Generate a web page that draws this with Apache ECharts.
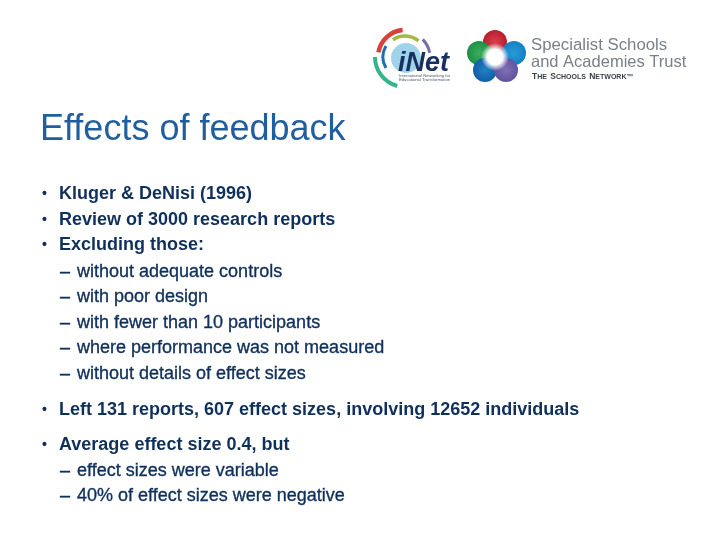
<!DOCTYPE html>
<html>
<head>
<meta charset="utf-8">
<style>html,body{margin:0;padding:0;background:#fff}#main{width:720px;height:540px}</style>
<script src="https://cdn.jsdelivr.net/npm/echarts@6/dist/echarts.min.js"></script>
</head>
<body>
<div id="main"></div>
<script>
const titleText = 'Effects of feedback'
const topBullets = ['Kluger & DeNisi (1996)', 'Review of 3000 research reports', 'Excluding those:']
const topBulletY = [194, 220, 245]
const subBullets = ['without adequate controls', 'with poor design', 'with fewer than 10 participants', 'where performance was not measured', 'without details of effect sizes']
const subBulletY = [272, 297, 323, 348, 374]
const leftBullets = ['Left 131 reports, 607 effect sizes, involving 12652 individuals']
const leftBulletY = [410]
const avgBullets = ['Average effect size 0.4, but']
const avgBulletY = [445]
const avgSubs = ['effect sizes were variable', '40% of effect sizes were negative']
const avgSubY = [471, 496]
const trustLines = ['Specialist Schools', 'and Academies Trust']
const trustY = [45, 62]

const bodyColor = '#10305c'
const bodyFont = 'Liberation Sans, Arial, sans-serif'

function txt(text, x, y, size, color, weight, extra){
  return {type: 'text', x, y, style: Object.assign({
    text, fill: color, fontFamily: bodyFont, fontSize: size, fontWeight: weight || 'normal',
    verticalAlign: 'middle', textAlign: 'left'
  }, extra || {})}
}
function bullet(text, y){
  return [txt('•', 42, y, 14, bodyColor, 'bold'), txt(text, 59, y, 18, bodyColor, 'bold')]
}
// sub lines are regular weight with a hair of stroke, the reference looks semi-bold
function sub(text, y){
  const heavy = {stroke: bodyColor, lineWidth: 0.35}
  return [txt('–', 60, y, 18, bodyColor, 'normal', heavy), txt(text, 77, y, 18, bodyColor, 'normal', heavy)]
}
function arc(cx, cy, r, a0, a1, color, w){
  return {type: 'arc', shape: {cx, cy, r, startAngle: a0 * Math.PI / 180, endAngle: a1 * Math.PI / 180},
    style: {stroke: color, lineWidth: w, fill: null}}
}
function petal(cx, cy, r, inner, outer){
  return {type: 'circle', shape: {cx, cy, r}, style: {fill: {
    type: 'radial', x: 0.5, y: 0.5, r: 0.6,
    colorStops: [{offset: 0, color: inner}, {offset: 1, color: outer}]
  }}}
}

const graphic = []
graphic.push(txt(titleText, 40, 130, 36, '#1f5f9f'))
topBullets.forEach((t, i) => graphic.push(...bullet(t, topBulletY[i])))
subBullets.forEach((t, i) => graphic.push(...sub(t, subBulletY[i])))
leftBullets.forEach((t, i) => graphic.push(...bullet(t, leftBulletY[i])))
avgBullets.forEach((t, i) => graphic.push(...bullet(t, avgBulletY[i])))
avgSubs.forEach((t, i) => graphic.push(...sub(t, avgSubY[i])))

// iNet logo
graphic.push(
  {type: 'circle', shape: {cx: 406, cy: 58, r: 15}, style: {fill: '#9fd3ea'}},
  arc(405, 57, 30, 105, 180, '#38b48c', 4),
  arc(405, 57, 27, 190, 265, '#d8403a', 4.5),
  arc(405, 57, 21, 235, 310, '#a4b84a', 3.5),
  arc(405, 57, 25, 315, 350, '#7a6aa8', 3),
  arc(405, 57, 22, 150, 210, '#1f6fb4', 3),
  txt('iNet', 398, 64, 27, '#17305f', 'bold', {fontStyle: 'italic'}),
  txt('International Networking for', 399, 76, 4.2, '#4a5a70'),
  txt('Educational Transformation', 399, 80, 4.2, '#4a5a70')
)

// petal logo
graphic.push(
  petal(495, 42, 12, '#d8404c', '#b01828'),
  petal(479, 53, 12, '#3cae5c', '#158a40'),
  petal(514, 53, 12, '#2a9ad8', '#0c7cc0'),
  petal(485, 70, 12, '#2080c4', '#10589f'),
  petal(506, 70, 12, '#8070b8', '#5a4c98'),
  {type: 'circle', shape: {cx: 495, cy: 57, r: 14}, style: {fill: {
    type: 'radial', x: 0.5, y: 0.5, r: 0.5,
    colorStops: [{offset: 0, color: '#ffffff'}, {offset: 0.55, color: '#ffffff'}, {offset: 1, color: 'rgba(255,255,255,0)'}]
  }}}
)

// trust wordmark
graphic.push(txt(trustLines[0], 531, trustY[0], 16.8, '#7a8088'))
graphic.push(txt(trustLines[1], 531, trustY[1], 16.5, '#7a8088'))
graphic.push({type: 'text', x: 532, y: 77, style: {
  text: '{b|T}{s|HE} {b|S}{s|CHOOLS} {b|N}{s|ETWORK}{s|™}',
  fontFamily: bodyFont, verticalAlign: 'middle', textAlign: 'left',
  rich: {
    b: {fontSize: 8.5, fontWeight: 'bold', fill: '#3a3f48', fontFamily: bodyFont},
    s: {fontSize: 7, fontWeight: 'bold', fill: '#3a3f48', fontFamily: bodyFont}
  }
}})

const chart = echarts.init(document.getElementById('main'))
chart.setOption({
  animation: false,
  backgroundColor: '#ffffff',
  graphic: {elements: graphic}
})
</script>
</body>
</html>
